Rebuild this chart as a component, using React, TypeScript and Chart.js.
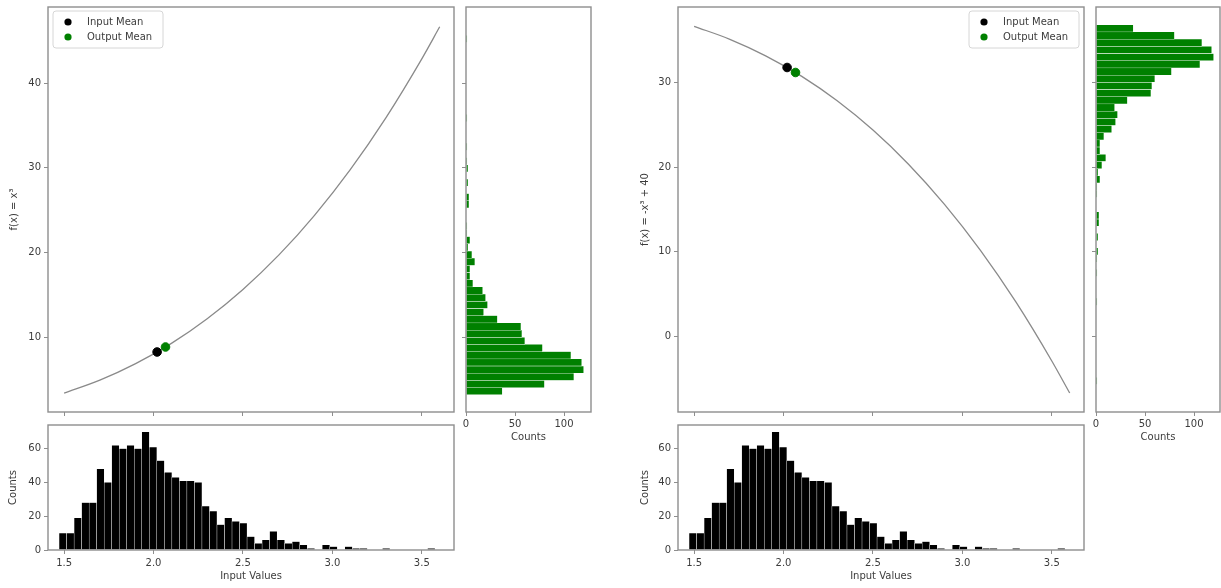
import React, { useEffect, useRef } from "react";
import { Chart, registerables } from "chart.js";

Chart.register(...registerables);

const FONT_FAMILY = "'DejaVu Sans', sans-serif";
const TEXT_COLOR = "#3c3c3c";
const SPINE_COLOR = "#8e8e8e";
const GREEN = "#008000";

// ---------- shared input-value axis ----------
const inputAxisRange = [1.41, 3.68];
const inputTicks = [1.5, 2.0, 2.5, 3.0, 3.5];

// ---------- histogram of input values (50 bins) ----------
const inputBinEdges = [1.472, 3.574];
const inputCounts = [
  10, 10, 19, 28, 28, 48, 40, 62, 60, 62,
  60, 70, 61, 53, 46, 43, 41, 41, 40, 26,
  23, 15, 19, 17, 16, 8, 4, 6, 11, 6,
  4, 5, 3, 1, 0, 3, 2, 0, 2, 1,
  1, 0, 0, 1, 0, 0, 0, 0, 0, 1,
];
const inputCountRange = [0, 74];
const inputCountTicks = [0, 20, 40, 60];

// ---------- curve samples ----------
const curveX = [1.5, 1.7, 1.9, 2.1, 2.3, 2.5, 2.7, 2.9, 3.1, 3.3, 3.5, 3.6];

// f(x) = x^3
const cubeY = [3.38, 4.91, 6.86, 9.26, 12.17, 15.63, 19.68, 24.39, 29.79, 35.94, 42.88, 46.66];
const cubeAxisRange = [1.15, 49.0];
const cubeTicks = [10, 20, 30, 40];
const cubeInputMean = [2.02, 8.24];
const cubeOutputMean = [2.067, 8.83];
const cubeBinEdges = [3.19, 45.65];
const cubeCounts = [
  37, 80, 110, 120, 118, 107, 78, 60, 57, 56,
  32, 18, 22, 20, 17, 7, 4, 4, 9, 6,
  2, 4, 1, 1, 0, 0, 3, 3, 0, 2,
  0, 2, 1, 0, 1, 0, 0, 0, 1, 0,
  0, 0, 0, 0, 0, 0, 0, 0, 0, 1,
];
const cubeSideRange = [0, 127.5];

// f(x) = -x^3 + 40
const negY = [36.62, 35.09, 33.14, 30.74, 27.83, 24.37, 20.32, 15.61, 10.21, 4.06, -2.88, -6.66];
const negAxisRange = [-8.9, 38.9];
const negTicks = [0, 10, 20, 30];
const negInputMean = [2.02, 31.76];
const negOutputMean = [2.067, 31.17];
const negBinEdges = [-5.65, 36.81];
const negCounts = [
  1, 0, 0, 0, 0, 0, 0, 0, 0, 0,
  0, 1, 0, 0, 0, 1, 0, 1, 2, 0,
  2, 0, 3, 3, 0, 0, 1, 1, 4, 2,
  6, 10, 4, 4, 8, 16, 20, 22, 19, 32,
  56, 57, 60, 77, 106, 120, 118, 108, 80, 38,
];
const negSideRange = [0, 126.5];

const sideCountTicks = [0, 50, 100];

const legendLabels = ["Input Mean", "Output Mean"];
const xTitle = "Input Values";
const countTitle = "Counts";
const cubeTitle = "f(x) = x³";
const negTitle = "f(x) = -x³ + 40";

// ---------- helpers ----------
function binPoints(edges: number[], counts: number[], horizontal: boolean) {
  const w = (edges[1] - edges[0]) / counts.length;
  const pts: { x: number; y: number }[] = [];
  counts.forEach((c, i) => {
    if (c <= 0) return;
    const mid = edges[0] + (i + 0.5) * w;
    pts.push(horizontal ? { x: c, y: mid } : { x: mid, y: c });
  });
  return pts;
}

type AxisOpts = {
  range: number[];
  ticks: number[];
  labels: boolean;
  size: number;
  vertical: boolean;
  decimals?: number;
  title?: string;
  titlePad?: any;
  tickPad?: number;
};

function axis(o: AxisOpts) {
  return {
    type: "linear",
    position: o.vertical ? "left" : "bottom",
    min: o.range[0],
    max: o.range[1],
    offset: false,
    afterBuildTicks: (s: any) => {
      s.ticks = o.ticks.map((v) => ({ value: v }));
    },
    afterFit: (s: any) => {
      if (o.vertical) s.width = o.size;
      else s.height = o.size;
      s.paddingTop = 0;
      s.paddingBottom = 0;
      s.paddingLeft = 0;
      s.paddingRight = 0;
    },
    grid: {
      display: true,
      offset: false,
      drawOnChartArea: false,
      drawTicks: true,
      tickLength: 4,
      color: SPINE_COLOR,
      lineWidth: 1,
    },
    border: { display: false },
    ticks: {
      display: o.labels,
      autoSkip: false,
      maxRotation: 0,
      color: TEXT_COLOR,
      padding: o.tickPad ?? 3,
      font: { family: FONT_FAMILY, size: 10 },
      callback: (v: any) => Number(v).toFixed(o.decimals ?? 0),
    },
    title: o.title
      ? {
          display: true,
          text: o.title,
          color: TEXT_COLOR,
          font: { family: FONT_FAMILY, size: 10 },
          padding: o.titlePad,
        }
      : { display: false },
  };
}

const framePlugin = {
  id: "frame",
  afterDatasetsDraw(chart: any) {
    const { ctx, chartArea: a } = chart;
    ctx.save();
    ctx.strokeStyle = SPINE_COLOR;
    ctx.lineWidth = 1.4;
    ctx.strokeRect(a.left, a.top, a.right - a.left, a.bottom - a.top);
    ctx.restore();
  },
};

function legendPlugin(side: "left" | "right") {
  return {
    id: "meanLegend",
    afterDraw(chart: any) {
      const { ctx, chartArea: a } = chart;
      const w = 110;
      const h = 37;
      const x0 = side === "left" ? a.left + 5 : a.right - 5 - w;
      const y0 = a.top + 4;
      ctx.save();
      ctx.beginPath();
      const r = 3;
      ctx.moveTo(x0 + r, y0);
      ctx.lineTo(x0 + w - r, y0);
      ctx.quadraticCurveTo(x0 + w, y0, x0 + w, y0 + r);
      ctx.lineTo(x0 + w, y0 + h - r);
      ctx.quadraticCurveTo(x0 + w, y0 + h, x0 + w - r, y0 + h);
      ctx.lineTo(x0 + r, y0 + h);
      ctx.quadraticCurveTo(x0, y0 + h, x0, y0 + h - r);
      ctx.lineTo(x0, y0 + r);
      ctx.quadraticCurveTo(x0, y0, x0 + r, y0);
      ctx.closePath();
      ctx.fillStyle = "rgba(255,255,255,0.8)";
      ctx.fill();
      ctx.strokeStyle = "#d6d6d6";
      ctx.lineWidth = 1;
      ctx.stroke();
      const ds = chart.data.datasets;
      [0, 1].forEach((k) => {
        const cy = y0 + 11 + k * 15;
        ctx.beginPath();
        ctx.arc(x0 + 15, cy, 3.6, 0, Math.PI * 2);
        ctx.fillStyle = ds[k].backgroundColor;
        ctx.fill();
        ctx.fillStyle = TEXT_COLOR;
        ctx.font = `10px ${FONT_FAMILY}`;
        ctx.textBaseline = "middle";
        ctx.textAlign = "left";
        ctx.fillText(ds[k].label, x0 + 34, cy);
      });
      ctx.restore();
    },
  };
}

const baseOptions = (scales: any, pad: any, indexAxis: "x" | "y" = "x") => ({
  responsive: false,
  animation: false,
  indexAxis,
  layout: { padding: pad, autoPadding: false },
  plugins: { legend: { display: false }, tooltip: { enabled: false } },
  scales,
});

function mainConfig(
  ys: number[],
  yRange: number[],
  yTicks: number[],
  inMean: number[],
  outMean: number[],
  title: string,
  titlePadTop: number,
  side: "left" | "right"
) {
  return {
    type: "scatter",
    data: {
      datasets: [
        {
          label: legendLabels[0],
          data: [{ x: inMean[0], y: inMean[1] }],
          backgroundColor: "#000000",
          borderColor: "#000000",
          pointRadius: 4.3,
          order: 0,
        },
        {
          label: legendLabels[1],
          data: [{ x: outMean[0], y: outMean[1] }],
          backgroundColor: GREEN,
          borderColor: GREEN,
          pointRadius: 4.3,
          order: 0,
        },
        {
          label: "curve",
          data: curveX.map((x, i) => ({ x, y: ys[i] })),
          showLine: true,
          borderColor: "#8a8a8a",
          borderWidth: 1.3,
          pointRadius: 0,
          cubicInterpolationMode: "monotone",
          fill: false,
          order: 1,
        },
      ],
    },
    options: baseOptions(
      {
        x: axis({ range: inputAxisRange, ticks: inputTicks, labels: false, size: 6, vertical: false }),
        y: axis({
          range: yRange,
          ticks: yTicks,
          labels: true,
          size: 48,
          vertical: true,
          title,
          titlePad: { top: titlePadTop, bottom: 0 },
        }),
      },
      { top: 2, right: 2, left: 0, bottom: 0 }
    ),
    plugins: [framePlugin, legendPlugin(side)],
  };
}

function bottomHistConfig(titlePadTop: number) {
  return {
    type: "bar",
    data: {
      datasets: [
        {
          data: binPoints(inputBinEdges, inputCounts, false),
          backgroundColor: "#000000",
          borderColor: "rgba(255,255,255,0.8)",
          borderWidth: { left: 0.5, right: 0.5, top: 0.5, bottom: 0 },
          borderSkipped: false,
          barPercentage: 1,
          categoryPercentage: 1,
          grouped: false,
        },
      ],
    },
    options: baseOptions(
      {
        x: axis({
          range: inputAxisRange,
          ticks: inputTicks,
          labels: true,
          size: 36,
          vertical: false,
          decimals: 1,
          title: xTitle,
          titlePad: { top: 0, bottom: 4 },
          tickPad: 3,
        }),
        y: axis({
          range: inputCountRange,
          ticks: inputCountTicks,
          labels: true,
          size: 48,
          vertical: true,
          title: countTitle,
          titlePad: { top: titlePadTop, bottom: 0 },
        }),
      },
      { top: 2, right: 2, left: 0, bottom: 0 }
    ),
    plugins: [framePlugin],
  };
}

function sideHistConfig(edges: number[], counts: number[], xRange: number[], yRange: number[], yTicks: number[], padRight: number) {
  return {
    type: "bar",
    data: {
      datasets: [
        {
          data: binPoints(edges, counts, true),
          backgroundColor: GREEN,
          borderColor: "rgba(255,255,255,0.75)",
          borderWidth: { top: 0.5, bottom: 0.5, right: 0.5, left: 0 },
          borderSkipped: false,
          barPercentage: 1,
          categoryPercentage: 1,
          grouped: false,
        },
      ],
    },
    options: baseOptions(
      {
        x: axis({
          range: xRange,
          ticks: sideCountTicks,
          labels: true,
          size: 32,
          vertical: false,
          title: countTitle,
          titlePad: { top: 0, bottom: 1 },
          tickPad: 2,
        }),
        y: axis({ range: yRange, ticks: yTicks, labels: false, size: 5, vertical: true }),
      },
      { top: 2, right: padRight, left: 0, bottom: 0 },
      "y"
    ),
    plugins: [framePlugin],
  };
}

function Panel({ left, top, width, height, make }: { left: number; top: number; width: number; height: number; make: () => any }) {
  const ref = useRef<HTMLCanvasElement>(null);
  useEffect(() => {
    const chart = new Chart(ref.current as HTMLCanvasElement, make());
    return () => chart.destroy();
  }, []);
  return (
    <canvas
      ref={ref}
      width={width}
      height={height}
      style={{ position: "absolute", left, top, width, height, display: "block" }}
    />
  );
}

export default function App() {
  return (
    <div style={{ position: "absolute", left: 0, top: 0, width: 1221, height: 588, background: "#ffffff", overflow: "hidden" }}>
      <Panel
        left={0}
        top={5}
        width={456}
        height={413}
        make={() => mainConfig(cubeY, cubeAxisRange, cubeTicks, cubeInputMean, cubeOutputMean, cubeTitle, 8, "left")}
      />
      <Panel
        left={461}
        top={5}
        width={132}
        height={439}
        make={() => sideHistConfig(cubeBinEdges, cubeCounts, cubeSideRange, cubeAxisRange, cubeTicks, 2)}
      />
      <Panel left={0} top={423} width={456} height={163} make={() => bottomHistConfig(7)} />
      <Panel
        left={630}
        top={5}
        width={456}
        height={413}
        make={() => mainConfig(negY, negAxisRange, negTicks, negInputMean, negOutputMean, negTitle, 9, "right")}
      />
      <Panel
        left={1091}
        top={5}
        width={130}
        height={439}
        make={() => sideHistConfig(negBinEdges, negCounts, negSideRange, negAxisRange, negTicks, 1)}
      />
      <Panel left={630} top={423} width={456} height={163} make={() => bottomHistConfig(9)} />
    </div>
  );
}
